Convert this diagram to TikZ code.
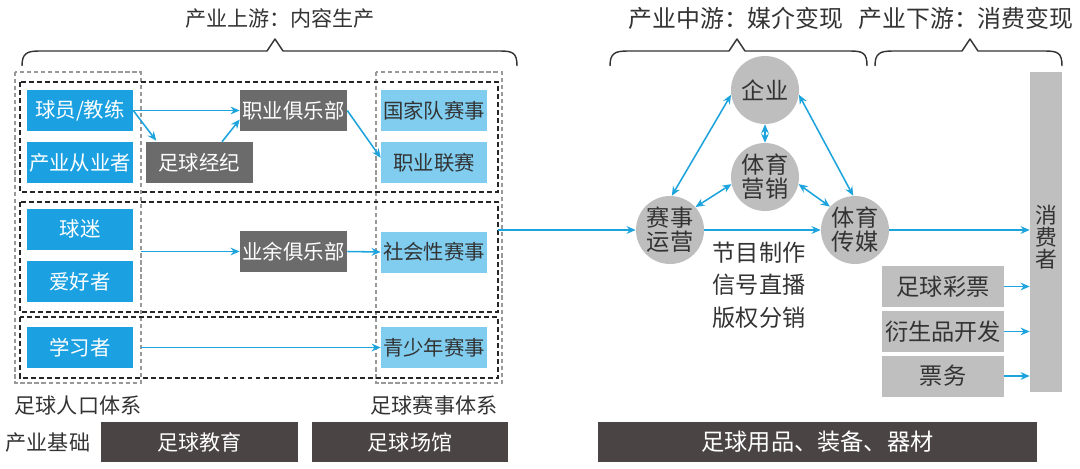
\documentclass[tikz,border=0pt]{standalone}
\usepackage{fontspec}
\setmainfont{Noto Sans CJK SC}
\usetikzlibrary{arrows.meta,calc}
\newlength\px \setlength\px{0.025cm}
\definecolor{cblue}{HTML}{1BA1E2}
\definecolor{clight}{HTML}{80CDF0}
\definecolor{cdgrey}{HTML}{6B6B6B}
\definecolor{cbar}{HTML}{4A4445}
\definecolor{ccirc}{HTML}{BEBEBE}
\definecolor{clgrey}{HTML}{BFBFBF}
\definecolor{ctext}{HTML}{333333}
\definecolor{carrow}{HTML}{1EA4DC}
\newcommand\myfa{\fontsize{14.5}{17}\selectfont}
\newcommand\myfb{\fontsize{16.5}{20}\selectfont}
\newcommand\myfc{\fontsize{15}{18}\selectfont}
\newcommand\myfd{\fontsize{17}{20}\selectfont}
\tikzset{
  boxbase/.style={rectangle, inner sep=0pt, minimum width=106\px, minimum height=41\px, font=\myfa},
  bluebox/.style={boxbase, fill=cblue, text=white},
  greybox/.style={boxbase, fill=cdgrey, text=white, minimum width=107\px},
  lightbox/.style={boxbase, fill=clight, text=ctext},
  circ/.style={circle, fill=ccirc, minimum size=68\px, inner sep=0pt, text=ctext, align=center, font=\fontsize{16.5}{19}\selectfont},
  lgbox/.style={rectangle, fill=clgrey, inner sep=0pt, minimum width=122\px, minimum height=41\px, text=ctext, font=\myfb},
  barbox/.style={rectangle, fill=cbar, inner sep=0pt, minimum height=40\px, text=white},
  lbl/.style={text=ctext, inner sep=0pt},
  arr/.style={draw=carrow, line width=1.1pt, -{Stealth[length=6.5pt,width=5.5pt]}},
  darr/.style={draw=carrow, line width=1.1pt, {Stealth[length=6.5pt,width=5.5pt]}-{Stealth[length=6.5pt,width=5.5pt]}},
  greydash/.style={draw=gray!80, line width=0.8pt, dash pattern=on 3pt off 2pt},
  blackdash/.style={draw=black!85, line width=1.1pt, dash pattern=on 3.5pt off 2.2pt},
  brace/.style={draw=black!80, line width=1pt, line join=round}
}
\begin{document}
\begin{tikzpicture}[x=0.025cm, y=-0.025cm]
\useasboundingbox (0,0) rectangle (1080,468);

% titles
\node[lbl, font=\myfc] (t1) at (280,18) {产业上游：内容生产};
\node[lbl, font=\myfd] (t2) at (736,18) {产业中游：媒介变现};
\node[lbl, font=\myfd] (t3) at (966,18) {产业下游：消费变现};

% braces
\draw[brace] (22,66) .. controls (22,53) and (27,51) .. (40,51) -- (267,51) -- (275,39) -- (283,51) -- (500,51) .. controls (513,51) and (517,53) .. (517,66);
\draw[brace] (610,66) .. controls (610,53) and (615,51) .. (628,51) -- (729,51) -- (737,39) -- (745,51) -- (850,51) .. controls (863,51) and (867,53) .. (867,66);
\draw[brace] (875,66) .. controls (875,53) and (880,51) .. (893,51) -- (962,51) -- (970,39) -- (978,51) -- (1045,51) .. controls (1058,51) and (1062,53) .. (1062,66);

% dashed frames
\draw[greydash] (15,72) rectangle (141,383);
\draw[greydash] (376,72) rectangle (502,383);
\draw[blackdash] (20,82) rectangle (498,192);
\draw[blackdash] (20,202) rectangle (498,312);
\draw[blackdash] (20,317) rectangle (498,378);

% left blue boxes
\node[bluebox] (qyjl) at (80,110.5) {球员/教练};
\node[bluebox] (cycy) at (80,162.5) {产业从业者};
\node[bluebox] (qm) at (80,229) {球迷};
\node[bluebox] (ahz) at (80,281.5) {爱好者};
\node[bluebox] (xxz) at (80,347.5) {学习者};

% grey boxes
\node[greybox] (zqjj) at (199,162.5) {足球经纪};
\node[greybox] (zyjlb) at (293.5,110.5) {职业俱乐部};
\node[greybox] (yyjlb) at (293.5,251.5) {业余俱乐部};

% light blue boxes
\node[lightbox] (gjd) at (434,110.5) {国家队赛事};
\node[lightbox] (zyls) at (434,162.5) {职业联赛};
\node[lightbox] (shx) at (434,252) {社会性赛事};
\node[lightbox] (qsn) at (434,347.5) {青少年赛事};

% labels
\node[lbl, font=\myfc] (rkt) at (78,405) {足球人口体系};
\node[lbl, font=\myfc] (sst) at (434,405) {足球赛事体系};
\node[lbl, font=\myfc] (cyjc) at (48,443) {产业基础};

% bottom bars
\node[barbox, minimum width=197\px, font=\myfc] (jy) at (199.5,442) {足球教育};
\node[barbox, minimum width=196\px, font=\myfc] (cg) at (410,442) {足球场馆};
\node[barbox, minimum width=439\px, font=\myfb] (yp) at (817.5,441.5) {足球用品、装备、器材};

% circles
\node[circ] (qy) at (765,90) {企业};
\node[circ] (yx) at (765,177) {体育\\[-2pt]营销};
\node[circ] (ss) at (670,230) {赛事\\[-2pt]运营};
\node[circ] (cm) at (855,230) {体育\\[-2pt]传媒};

\node[lbl, font=\myfb, align=center] (jm) at (759,285) {节目制作\\[3pt]信号直播\\[3pt]版权分销};

% consumer bar
\node[rectangle, fill=clgrey, inner sep=0pt, minimum width=32\px, minimum height=320\px, text=ctext] (xfz) at (1046,232) {};
\node[lbl, font=\fontsize{15.5}{15.8}\selectfont, align=center] (xfzt) at (1046,237) {消\\费\\者};

% light grey boxes
\node[lgbox] (cp) at (943,286.5) {足球彩票};
\node[lgbox] (ysp) at (943,331.5) {衍生品开发};
\node[lgbox] (pw) at (943,376) {票务};

% coordinates
\coordinate (r2) at (141,251.5);
\coordinate (r3) at (141,347.5);
\coordinate (rs) at (498,230);

% arrows left
\draw[arr] (qyjl.east) -- (zyjlb.west);
\draw[arr] (qyjl.east) -- ($(zqjj.north west)+(11,-1)$);
\draw[arr] ($(zqjj.north)+(23,0)$) -- ($(zyjlb.west)+(0,9)$);
\draw[arr] (zyjlb.east) -- (zyls.175);
\draw[arr] (r2) -- (yyjlb.west);
\draw[arr] (yyjlb.east) -- (shx.west);
\draw[arr] (r3) -- (qsn.west);
\draw[arr] (rs) -- (ss.west |- rs);

% middle arrows
\draw[darr] (qy.188) -- (ss.87);
\draw[darr] (qy.352) -- (cm.93);
\draw[darr] (qy.south) -- (yx.north);
\draw[darr] (yx.192) -- (ss.42);
\draw[darr] (yx.348) -- (cm.137);
\draw[arr] (ss.east) -- (cm.west);
\draw[arr] (cm.east) -- (cm.east -| xfz.west);

% right arrows
\draw[arr] (cp.east) -- (cp.east -| xfz.west);
\draw[arr] (ysp.east) -- (ysp.east -| xfz.west);
\draw[arr] (pw.east) -- (pw.east -| xfz.west);
\end{tikzpicture}
\end{document}
